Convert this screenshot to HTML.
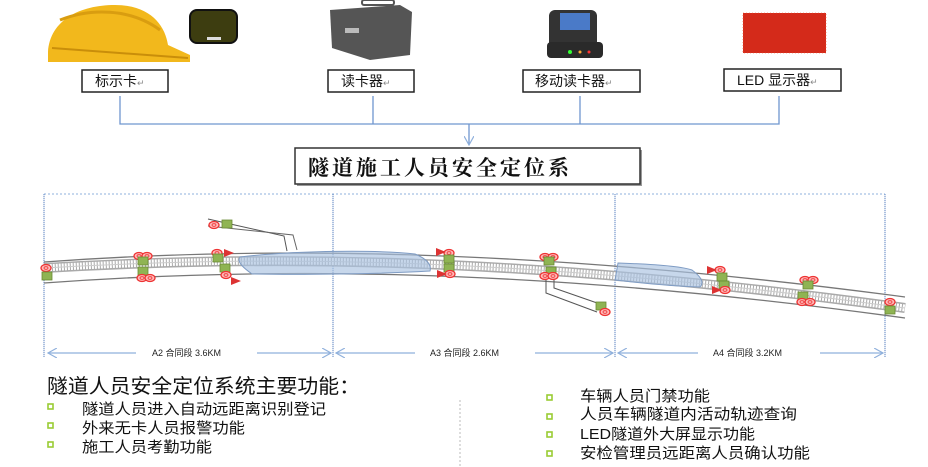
<!DOCTYPE html>
<html><head><meta charset="utf-8"><style>
html,body{margin:0;padding:0;background:#fff;}
svg{display:block;}
text{font-family:"Liberation Sans","Noto Sans CJK SC",sans-serif;}
</style></head><body>
<svg width="928" height="467" viewBox="0 0 928 467" xmlns="http://www.w3.org/2000/svg">
<defs>
<marker id="ar" markerWidth="10" markerHeight="10" refX="9" refY="5" orient="auto" markerUnits="userSpaceOnUse"><path d="M0,0 L9,5 L0,10" fill="none" stroke="#8fb0dc" stroke-width="1.2"/></marker>
<g id="rd"><ellipse cx="0" cy="0" rx="5" ry="3.5" fill="#fbb" stroke="#e33" stroke-width="1.3"/><ellipse cx="0" cy="0" rx="2" ry="1.3" fill="none" stroke="#e33" stroke-width="0.8"/></g>
<g id="rd2"><use href="#rd" x="-4"/><use href="#rd" x="4"/></g>
<rect id="gs" x="-5" y="-4" width="10" height="8" fill="#8fb453" stroke="#6a8a35" stroke-width="0.8"/>
</defs>

<!-- top images -->
<path d="M48,52 C50,20 80,5 115,5 C150,5 165,25 168,45 L190,55 L190,62 L48,62 Z" fill="#f2b81c"/>
<path d="M60,20 C90,8 130,8 160,30" stroke="#d99d10" stroke-width="3" fill="none"/>
<path d="M52,48 L188,58" stroke="#c98e0a" stroke-width="2"/>
<rect x="190" y="10" width="47" height="33" rx="7" fill="#3d3d10" stroke="#111" stroke-width="2"/>
<rect x="207" y="37" width="14" height="3" fill="#ddd"/>
<path d="M330,10 L400,5 L412,12 L410,55 L370,60 L332,48 Z" fill="#555"/>
<rect x="362" y="0" width="32" height="5" rx="2" fill="none" stroke="#555" stroke-width="2"/>
<rect x="345" y="28" width="14" height="5" fill="#bbb"/>
<rect x="549" y="10" width="48" height="48" rx="6" fill="#333"/>
<rect x="560" y="13" width="30" height="17" fill="#4a7ac8"/>
<rect x="547" y="42" width="56" height="16" rx="4" fill="#2a2a2a"/>
<circle cx="570" cy="52" r="2" fill="#3f3"/><circle cx="580" cy="52" r="1.5" fill="#fa3"/><circle cx="589" cy="52" r="1.5" fill="#f33"/>
<rect x="743" y="13" width="83" height="40" fill="#d42a1a"/>
<rect x="743" y="13" width="83" height="40" fill="none" stroke="#ee5533" stroke-width="0.6" stroke-dasharray="1 2"/>

<!-- labels -->
<g fill="#fff" stroke="#222" stroke-width="1.5">
<rect x="82" y="70" width="86" height="22"/>
<rect x="328" y="70" width="86" height="22"/>
<rect x="523" y="70" width="117" height="22"/>
<rect x="724" y="69" width="117" height="22"/>
</g>
<g font-size="14" fill="#111">
<text x="95" y="86">标示卡<tspan font-size="9" fill="#888">↵</tspan></text>
<text x="341" y="86">读卡器<tspan font-size="9" fill="#888">↵</tspan></text>
<text x="535" y="86">移动读卡器<tspan font-size="9" fill="#888">↵</tspan></text>
<text x="737" y="85">LED 显示器<tspan font-size="9" fill="#888">↵</tspan></text>
</g>
<g stroke="#6f96cf" stroke-width="1.3" fill="none">
<path d="M120,96 V124 H779 V96"/>
<path d="M373,96 V124 M580,96 V124"/>
<path d="M469,124 V145" marker-end="url(#ar)"/>
</g>
<rect x="297" y="150" width="345" height="36" fill="#999"/>
<rect x="295" y="148" width="345" height="36" fill="#fff" stroke="#333" stroke-width="1.5"/>
<text x="308" y="175" font-size="21" font-weight="bold" letter-spacing="3" fill="#111" style="font-family:'Liberation Serif','Noto Serif CJK SC',serif">隧道施工人员安全定位系</text>

<!-- section frame -->
<path d="M44,194 H885" stroke="#8fb0dc" stroke-width="1" stroke-dasharray="2 2"/>
<g stroke="#5a82c0" stroke-width="1">
<path d="M44,194 V357 M333,194 V357 M615,194 V357 M885,194 V357" stroke-dasharray="1.2 0.8"/>
</g>

<!-- road -->
<g fill="none">
<path d="M44,262 C250,247 520,246 905,297" stroke="#777" stroke-width="1.3"/>
<path d="M44,283 C250,268 520,265 905,318" stroke="#777" stroke-width="1.3"/>
<path d="M44,268 C250,256 510,254 905,308" stroke="#aaa" stroke-width="10"/>
<path d="M44,268 C250,256 510,254 905,308" stroke="#fff" stroke-width="7" stroke-dasharray="2 1"/>
<path d="M44,268 C250,256 510,254 905,308" stroke="#ccc" stroke-width="1" />
</g>
<!-- tunnel bodies -->
<path d="M240,257 C300,250 380,250 415,254 C425,258 432,264 430,271 C380,274 300,275 252,274 C245,269 236,262 240,257 Z" fill="#a9c1e0" fill-opacity="0.65" stroke="#7f9cc4" stroke-width="1"/>
<path d="M618,263 C650,264 680,266 692,270 C700,276 705,282 700,287 C670,286 640,283 615,280 Z" fill="#a9c1e0" fill-opacity="0.65" stroke="#7f9cc4" stroke-width="1"/>
<!-- branches -->
<g fill="none" stroke="#555" stroke-width="1">
<path d="M208,219 L284,236 L287,251"/>
<path d="M208,226 L293,235 L297,250" stroke="#666"/>
<path d="M546,280 V293 L597,312"/>
<path d="M554,280 V288 L600,304"/>
</g>

<!-- markers -->
<g>
<use href="#rd" x="46" y="268"/><use href="#gs" x="47" y="276"/>
<use href="#rd2" x="143" y="256"/><use href="#gs" x="143" y="261"/><use href="#gs" x="143" y="271"/><use href="#rd2" x="146" y="278"/>
<use href="#rd" x="217" y="253"/><use href="#gs" x="218" y="258"/><use href="#gs" x="225" y="268"/><use href="#rd" x="226" y="275"/>
<use href="#rd" x="214" y="225"/><use href="#gs" x="227" y="224"/>
<use href="#rd" x="449" y="253"/><use href="#gs" x="449" y="259"/><use href="#gs" x="449" y="268"/><use href="#rd" x="450" y="274"/>
<use href="#rd2" x="549" y="257"/><use href="#gs" x="549" y="261"/><use href="#gs" x="551" y="271"/><use href="#rd2" x="549" y="276"/>
<use href="#gs" x="601" y="306"/><use href="#rd" x="605" y="312"/>
<use href="#rd" x="720" y="270"/><use href="#gs" x="722" y="277"/><use href="#gs" x="724" y="285"/><use href="#rd" x="725" y="290"/>
<use href="#rd2" x="809" y="280"/><use href="#gs" x="808" y="285"/><use href="#gs" x="803" y="296"/><use href="#rd2" x="806" y="302"/>
<use href="#rd" x="890" y="302"/><use href="#gs" x="890" y="310"/>
</g>
<g fill="#d33">
<path d="M224,249 L234,253 L224,257 Z"/>
<path d="M231,277 L241,281 L231,285 Z"/>
<path d="M436,248 L446,252 L436,256 Z"/>
<path d="M437,270 L447,274 L437,278 Z"/>
<path d="M707,266 L717,270 L707,274 Z"/>
<path d="M712,286 L722,290 L712,294 Z"/>
</g>

<!-- dimension lines -->
<g stroke="#8fb0dc" stroke-width="1.2" fill="none">
<path d="M136,353 H48" marker-end="url(#ar)"/>
<path d="M257,353 H331" marker-end="url(#ar)"/>
<path d="M415,353 H336" marker-end="url(#ar)"/>
<path d="M535,353 H613" marker-end="url(#ar)"/>
<path d="M698,353 H618" marker-end="url(#ar)"/>
<path d="M820,353 H883" marker-end="url(#ar)"/>
</g>
<g font-size="9" fill="#222">
<text x="152" y="356">A2 合同段  3.6KM</text>
<text x="430" y="356">A3 合同段  2.6KM</text>
<text x="713" y="356">A4 合同段  3.2KM</text>
</g>

<!-- functions -->
<text x="47" y="393" font-size="20" fill="#111" textLength="313" lengthAdjust="spacingAndGlyphs">隧道人员安全定位系统主要功能：</text>
<path d="M460,400 V467" stroke="#bbb" stroke-width="1" stroke-dasharray="2 2"/>
<g fill="#fff" stroke="#9c3" stroke-width="1.6">
<rect x="48" y="404" width="5" height="5"/><rect x="48" y="423" width="5" height="5"/><rect x="48" y="442" width="5" height="5"/>
<rect x="547" y="395" width="5" height="5"/><rect x="547" y="414" width="5" height="5"/><rect x="547" y="432" width="5" height="5"/><rect x="547" y="451" width="5" height="5"/>
</g>
<g font-size="15" fill="#111">
<text x="82" y="414" textLength="244" lengthAdjust="spacingAndGlyphs">隧道人员进入自动远距离识别登记</text>
<text x="82" y="433" textLength="163" lengthAdjust="spacingAndGlyphs">外来无卡人员报警功能</text>
<text x="82" y="452" textLength="130" lengthAdjust="spacingAndGlyphs">施工人员考勤功能</text>
<text x="580" y="401" textLength="130" lengthAdjust="spacingAndGlyphs">车辆人员门禁功能</text>
<text x="580" y="419" textLength="217" lengthAdjust="spacingAndGlyphs">人员车辆隧道内活动轨迹查询</text>
<text x="580" y="439" textLength="175" lengthAdjust="spacingAndGlyphs">LED隧道外大屏显示功能</text>
<text x="580" y="458" textLength="230" lengthAdjust="spacingAndGlyphs">安检管理员远距离人员确认功能</text>
</g>
</svg>
</body></html>
